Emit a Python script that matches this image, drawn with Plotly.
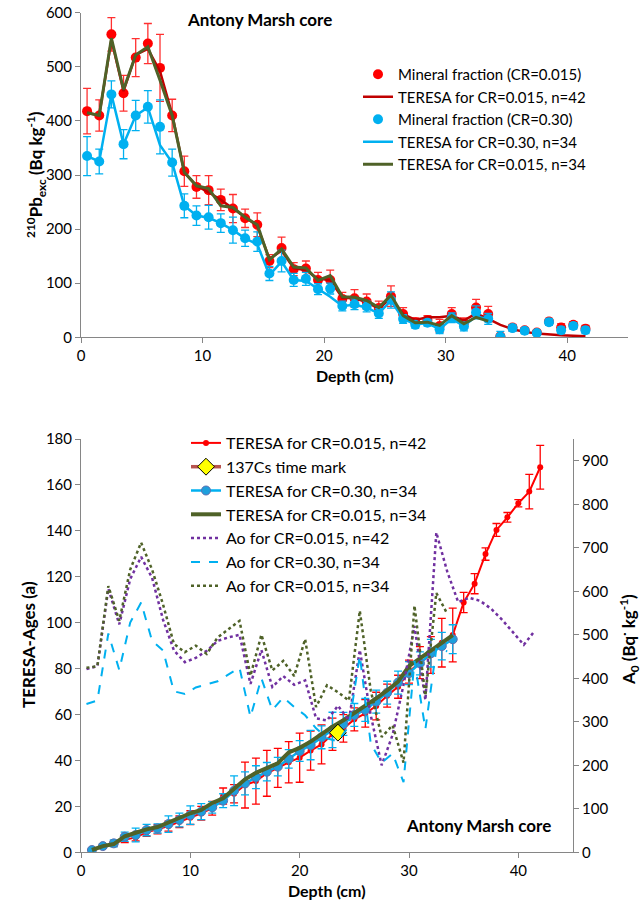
import plotly.graph_objects as go

# ---------------- Top chart data ----------------
depth_mid = [0.5, 1.5, 2.5, 3.5, 4.5, 5.5, 6.5, 7.5, 8.5, 9.5, 10.5, 11.5, 12.5, 13.5,
             14.5, 15.5, 16.5, 17.5, 18.5, 19.5, 20.5, 21.5, 22.5, 23.5, 24.5, 25.5,
             26.5, 27.5, 28.5, 29.5, 30.5, 31.5, 32.5, 33.5, 34.5, 35.5, 36.5, 37.5,
             38.5, 39.5, 40.5, 41.5]
depth_mid34 = depth_mid[:34]

min_cr015 = [418, 410, 560, 451, 517, 543, 498, 410, 307, 278, 272, 254, 238, 220, 208,
             141, 165, 126, 127, 106, 106, 71, 72, 66, 54, 76, 43, 28, 32, 21, 43, 26,
             55, 43, 2, 18, 13, 9, 29, 18, 23, 16]
min_cr015_err = [42, 29, 31, 33, 35, 37, 62, 30, 28, 21, 27, 20, 26, 17, 22, 12, 20, 12,
                 14, 14, 18, 12, 16, 14, 13, 19, 12, 8, 8, 12, 12, 10, 15, 14, 2, 6, 5,
                 4, 6, 7, 6, 6]
min_cr030 = [335, 325, 449, 357, 410, 426, 389, 323, 243, 225, 222, 211, 198, 183, 177,
             118, 141, 106, 108, 89, 90, 58, 61, 57, 44, 69, 34, 23, 27, 15, 36, 20, 46,
             34, 1, 17, 12, 8, 28, 13, 21, 13]
min_cr030_err = [36, 23, 25, 27, 28, 30, 50, 25, 22, 18, 22, 17, 24, 15, 18, 13, 20, 12,
                 12, 10, 10, 9, 10, 10, 9, 15, 8, 6, 6, 8, 9, 8, 12, 10, 10, 6, 5, 4, 6,
                 6, 6, 6]
teresa015_n42 = [415, 410, 550, 455, 522, 533, 492, 412, 305, 280, 268, 254, 238, 222,
                 206, 145, 160, 128, 124, 108, 106, 73, 72, 65, 53, 73, 43, 32, 37, 37,
                 40, 31, 44, 34, 23, 15, 10, 7, 5, 4, 3, 2]
teresa030_n34 = [335, 325, 449, 357, 410, 425, 355, 323, 243, 225, 221, 211, 198, 183,
                 172, 115, 140, 106, 104, 89, 75, 58, 60, 55, 44, 68, 34, 24, 26, 15, 34,
                 21, 39, 33]
teresa015_n34 = [415, 410, 553, 458, 522, 537, 475, 410, 305, 280, 275, 243, 240, 222,
                 208, 143, 163, 130, 128, 105, 114, 75, 74, 68, 55, 78, 40, 27, 28, 22,
                 40, 25, 37, 30]

# ---------------- Bottom chart data ----------------
depth_int = [1, 2, 3, 4, 5, 6, 7, 8, 9, 10, 11, 12, 13, 14, 15, 16, 17, 18, 19, 20, 21,
             22, 23, 24, 25, 26, 27, 28, 29, 30, 31, 32, 33, 34, 35, 36, 37, 38, 39, 40,
             41, 42]
depth_int34 = depth_int[:34]

age_015_n42 = [1.0, 2.5, 3.7, 5.4, 6.5, 8.7, 10.0, 11.4, 13.3, 15.1, 17.0, 19.2, 24.5,
               25.5, 29.3, 31.0, 34.4, 36.8, 39.2, 41.2, 44.3, 47.0, 51.4, 54.0, 57.9,
               60.5, 63.7, 68.2, 72.1, 78.7, 82.6, 85.9, 91.3, 94.6, 108.8, 117.0,
               129.9, 140.4, 145.9, 152.0, 157.1, 167.7]
age_015_n42_err = [0.5, 0.7, 1, 1.2, 1.5, 1.8, 2, 2.2, 2.5, 3, 3, 3, 3.5, 4, 10, 10, 10,
                   8.5, 9, 10.7, 8.5, 8.5, 7, 6, 5, 6, 6, 5, 5, 5, 7, 8, 10.6, 11.7, 4.4,
                   4.4, 2.7, 2.8, 2.1, 1.6, 7.5, 9.5]
age_030_n34 = [1.0, 2.7, 3.9, 6.8, 7.5, 9.7, 10.4, 12.3, 14.1, 16.2, 17.7, 19.6, 22.5,
               26.8, 30.0, 32.7, 35.1, 37.3, 40.7, 44.1, 46.7, 50.1, 53.3, 55.9, 59.8,
               62.0, 65.6, 69.5, 73.9, 78.0, 82.3, 86.7, 89.8, 92.8]
age_030_n34_err = [0.5, 1, 1.5, 2, 3, 2.5, 2, 3.6, 3, 4, 3.5, 2.5, 3, 6.5, 5, 5, 4, 4, 4,
                   4.5, 6.4, 5, 7.7, 5, 5, 5, 5, 5, 5, 5, 5, 6, 6, 6.3]
age_015_n34 = [1.0, 2.7, 3.6, 7.0, 8.5, 10.0, 11.0, 13.0, 15.0, 17.0, 18.5, 21.5, 23.5,
               27.5, 31.8, 34.6, 36.8, 38.8, 43.5, 45.5, 48.2, 51.5, 54.7, 57.5, 60.5,
               63.5, 67.0, 70.5, 74.3, 81.1, 84.5, 88.1, 91.7, 94.6]
cs_depth = [23.5]
cs_age = [52.1]

a0_015_n42 = [421, 428, 606, 524, 628, 679, 631, 535, 464, 437, 447, 463, 486, 494, 500,
              387, 465, 380, 405, 385, 395, 308, 303, 337, 303, 465, 315, 200, 270, 385,
              520, 350, 735, 645, 575, 585, 578, 560, 535, 505, 477, 509]
a0_030_n34 = [341, 349, 503, 419, 528, 574, 486, 464, 370, 364, 379, 386, 393, 409, 424,
              311, 400, 327, 356, 334, 315, 285, 262, 255, 290, 452, 250, 206, 227, 161,
              440, 283, 468, 462]
a0_015_n34 = [424, 428, 612, 532, 650, 712, 650, 570, 479, 460, 475, 456, 494, 513, 532,
              406, 500, 418, 440, 405, 490, 334, 384, 368, 349, 555, 372, 265, 292, 206,
              567, 360, 596, 548]

FONT = "Lato"
W, H = 643, 907
AXC = "#868686"


def px(x):
    return x / W


def py(y):
    return (H - y) / H


fig = go.Figure()

# ---- top chart traces ----
fig.add_trace(go.Scatter(
    x=depth_mid, y=min_cr015, mode="markers", name="Mineral fraction (CR=0.015)",
    marker=dict(color="#FF0000", size=10),
    error_y=dict(type="data", array=min_cr015_err, color="#FF3030", thickness=1.3, width=4),
    xaxis="x", yaxis="y", legend="legend"))
fig.add_trace(go.Scatter(
    x=depth_mid, y=teresa015_n42, mode="lines", name="TERESA for CR=0.015, n=42",
    line=dict(color="#C00000", width=2.5), xaxis="x", yaxis="y", legend="legend"))
fig.add_trace(go.Scatter(
    x=depth_mid, y=min_cr030, mode="markers", name="Mineral fraction (CR=0.30)",
    marker=dict(color="#00B0F0", size=10),
    error_y=dict(type="data", array=min_cr030_err, color="#00B0F0", thickness=1.3, width=4),
    xaxis="x", yaxis="y", legend="legend"))
fig.add_trace(go.Scatter(
    x=depth_mid34, y=teresa030_n34, mode="lines", name="TERESA for CR=0.30, n=34",
    line=dict(color="#00B0F0", width=2.5), xaxis="x", yaxis="y", legend="legend"))
fig.add_trace(go.Scatter(
    x=depth_mid34, y=teresa015_n34, mode="lines", name="TERESA for CR=0.015, n=34",
    line=dict(color="#4F6228", width=3), xaxis="x", yaxis="y", legend="legend"))

# ---- bottom chart traces ----
fig.add_trace(go.Scatter(
    x=depth_mid, y=a0_015_n42, mode="lines", name="Ao for CR=0.015, n=42",
    line=dict(color="#7030A0", width=2.5, dash="dot"), xaxis="x2", yaxis="y3",
    legend="legend2", legendrank=5))
fig.add_trace(go.Scatter(
    x=depth_mid34, y=a0_030_n34, mode="lines", name="Ao for CR=0.30, n=34",
    line=dict(color="#00B0F0", width=2, dash="dash"), xaxis="x2", yaxis="y3",
    legend="legend2", legendrank=6))
fig.add_trace(go.Scatter(
    x=depth_mid34, y=a0_015_n34, mode="lines", name="Ao for CR=0.015, n=34",
    line=dict(color="#4F6228", width=2.5, dash="dot"), xaxis="x2", yaxis="y3",
    legend="legend2", legendrank=7))
fig.add_trace(go.Scatter(
    x=depth_int, y=age_015_n42, mode="lines+markers", name="TERESA for CR=0.015, n=42",
    line=dict(color="#FF0000", width=2), marker=dict(color="#FF0000", size=6),
    error_y=dict(type="data", array=age_015_n42_err, color="#FF0000", thickness=1.3, width=4),
    xaxis="x2", yaxis="y2", legend="legend2", legendrank=1))
fig.add_trace(go.Scatter(
    x=depth_int34, y=age_030_n34, mode="lines+markers", name="TERESA for CR=0.30, n=34",
    line=dict(color="#00B0F0", width=2.5),
    marker=dict(color="#1E9FDC", size=9, line=dict(color="#5C6FB0", width=1)),
    error_y=dict(type="data", array=age_030_n34_err, color="#00B0F0", thickness=1.3, width=4),
    xaxis="x2", yaxis="y2", legend="legend2", legendrank=3))
fig.add_trace(go.Scatter(
    x=depth_int34, y=age_015_n34, mode="lines", name="TERESA for CR=0.015, n=34",
    line=dict(color="#4F6228", width=4), xaxis="x2", yaxis="y2",
    legend="legend2", legendrank=4))
fig.add_trace(go.Scatter(
    x=cs_depth, y=cs_age, mode="lines+markers", name="137Cs time mark",
    line=dict(color="#B85450", width=3.5),
    marker=dict(symbol="diamond", color="#FFFF00", size=13, line=dict(color="#000000", width=1)),
    xaxis="x2", yaxis="y2", legend="legend2", legendrank=2))

axis_common = dict(showline=True, linecolor=AXC, linewidth=1, ticks="outside",
                   ticklen=5, tickcolor=AXC, showgrid=False, zeroline=False,
                   automargin=False,
                   tickfont=dict(family=FONT, size=15, color="#000000"))

fig.update_layout(
    width=W, height=H, margin=dict(l=0, r=0, t=0, b=0, autoexpand=False),
    paper_bgcolor="white", plot_bgcolor="white",
    font=dict(family=FONT, color="#000000"),
    xaxis=dict(domain=[px(81), px(628)], anchor="y", range=[0, 45],
               tickvals=[0, 10, 20, 30, 40], **axis_common),
    yaxis=dict(domain=[py(337.3), py(12.7)], anchor="x", range=[0, 600],
               tickvals=[0, 100, 200, 300, 400, 500, 600], **axis_common),
    xaxis2=dict(domain=[px(81), px(573)], anchor="y2", range=[0, 45],
                tickvals=[0, 10, 20, 30, 40], **axis_common),
    yaxis2=dict(domain=[py(852.3), py(439)], anchor="x2", range=[0, 180],
                tickvals=list(range(0, 181, 20)), **axis_common),
    yaxis3=dict(overlaying="y2", anchor="x2", side="right", range=[0, 950],
                tickvals=list(range(0, 901, 100)), **axis_common),
    legend=dict(x=px(358), y=py(58), xanchor="left", yanchor="top",
                bgcolor="rgba(0,0,0,0)", font=dict(family=FONT, size=15),
                traceorder="normal"),
    legend2=dict(x=px(186), y=py(426), xanchor="left", yanchor="top",
                 bgcolor="rgba(0,0,0,0)", font=dict(family=FONT, size=16),
                 traceorder="normal"),
    showlegend=True,
)

annots = [
    dict(text="<b>Antony Marsh core</b>", x=px(259), y=py(20), size=17),
    dict(text="<b>Depth (cm)</b>", x=px(354.5), y=py(375), size=16),
    dict(text="<b><sup>210</sup>Pb<sub>exc</sub> (Bq kg<sup>-1</sup>)</b>", x=px(36),
         y=py(175), size=17, angle=-90),
    dict(text="<b>Depth (cm)</b>", x=px(327), y=py(890), size=16),
    dict(text="<b>TERESA-Ages (a)</b>", x=px(28), y=py(645), size=17, angle=-90),
    dict(text="<b>A<sub>0</sub> (Bq<sup>·</sup> kg<sup>-1</sup>)</b>", x=px(629),
         y=py(640), size=17, angle=-90),
    dict(text="<b>Antony Marsh core</b>", x=px(478), y=py(825), size=17),
]
for a in annots:
    fig.add_annotation(text=a["text"], x=a["x"], y=a["y"], xref="paper", yref="paper",
                       xanchor="center", yanchor="middle", showarrow=False,
                       textangle=a.get("angle", 0),
                       font=dict(family=FONT, size=a["size"], color="#000000"))

fig.write_html("out.html")
